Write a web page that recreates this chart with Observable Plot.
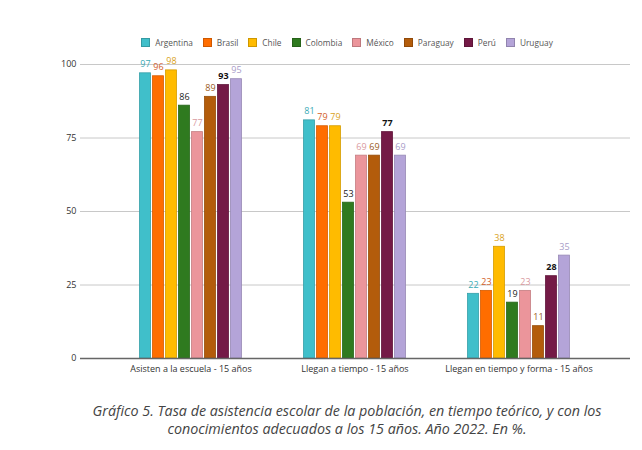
<!DOCTYPE html>
<html>
<head>
<meta charset="utf-8">
<script src="https://cdn.jsdelivr.net/npm/d3@7"></script>
<script src="https://cdn.jsdelivr.net/npm/@observablehq/plot@0.6"></script>
<style>
  body { margin: 0; background: #fff; font-family: "Open Sans", sans-serif; width: 642px; }
  #legend { display: flex; justify-content: center; align-items: center; padding-top: 36px; padding-left: 52px; height: 12px; font-size: 8.3px; color: #555; }
  #legend .item { display: flex; align-items: center; margin: 0 5px; }
  #legend .sw { width: 7px; height: 7px; margin-right: 5px; border: 1px solid; }
  #chart svg { display: block; }
  #caption { text-align: center; padding-left: 52px; margin-top: 20px; font-style: italic; font-size: 14.3px; line-height: 18px; color: #444; }
</style>
</head>
<body>
<div id="legend"></div>
<div id="chart"></div>
<div id="caption">Gráfico 5. Tasa de asistencia escolar de la población, en tiempo teórico, y con los<br>conocimientos adecuados a los 15 años. Año 2022. En %.</div>
<script>
const groups = ["Asisten a la escuela - 15 años", "Llegan a tiempo - 15 años", "Llegan en tiempo y forma - 15 años"];
const countries = ["Argentina", "Brasil", "Chile", "Colombia", "México", "Paraguay", "Perú", "Uruguay"];
const asisten = [97, 96, 98, 86, 77, 89, 93, 95];
const llegan = [81, 79, 79, 53, 69, 69, 77, 69];
const forma = [22, 23, 38, 19, 23, 11, 28, 35];
const yTicks = [0, 25, 50, 75, 100];
const colors = ["#40bfca", "#ff6d00", "#ffbb00", "#2f7a1f", "#eb959b", "#b35c0b", "#741a46", "#b4a4d8"];
const labelColors = ["#3aaab5", "#d2602a", "#d9a21c", "#222222", "#d99aa0", "#9a5a22", "#111111", "#a89cc8"];

const series = [asisten, llegan, forma];
const data = [];
groups.forEach((g, gi) => countries.forEach((c, ci) => data.push({group: g, country: c, value: series[gi][ci], ci})));

// legend
const leg = document.getElementById("legend");
countries.forEach((c, i) => {
  const it = document.createElement("div");
  it.className = "item";
  const sw = document.createElement("span");
  sw.className = "sw";
  sw.style.background = colors[i];
  sw.style.borderColor = d3.color(colors[i]).darker(0.6);
  it.appendChild(sw);
  it.appendChild(document.createTextNode(c));
  leg.appendChild(it);
});

const step = 13;
const marks = [
  Plot.gridY(yTicks, {stroke: "#c8c8c8", strokeOpacity: 1}),
];
countries.forEach((c, i) => {
  const sub = data.filter(d => d.country === c);
  marks.push(Plot.barY(sub, {
    x: "group", y: "value", fill: colors[i],
    stroke: d3.color(colors[i]).darker(0.5).formatHex(), strokeWidth: 0.8,
    dx: (i - 3.5) * step
  }));
  marks.push(Plot.text(sub, {
    x: "group", y: "value", text: d => String(d.value),
    fill: labelColors[i], fontSize: 9, lineAnchor: "bottom",
    fontWeight: c === "Perú" ? "bold" : "normal",
    dx: (i - 3.5) * step, dy: -6
  }));
});
marks.push(Plot.ruleY([0], {stroke: "#666", strokeWidth: 1.5}));

const plot = Plot.plot({
  width: 642,
  height: 334,
  marginLeft: 80,
  marginRight: 12,
  marginTop: 16,
  marginBottom: 24,
  style: {fontFamily: "Open Sans, sans-serif", fontSize: "9px", color: "#333", background: "#fff"},
  x: {domain: groups, paddingInner: 0.93, paddingOuter: 0.64, label: null, tickSize: 0, tickPadding: 7},
  y: {domain: [0, 100], ticks: yTicks, label: null, tickSize: 0, tickPadding: 4},
  marks
});
document.getElementById("chart").appendChild(plot);
</script>
</body>
</html>
